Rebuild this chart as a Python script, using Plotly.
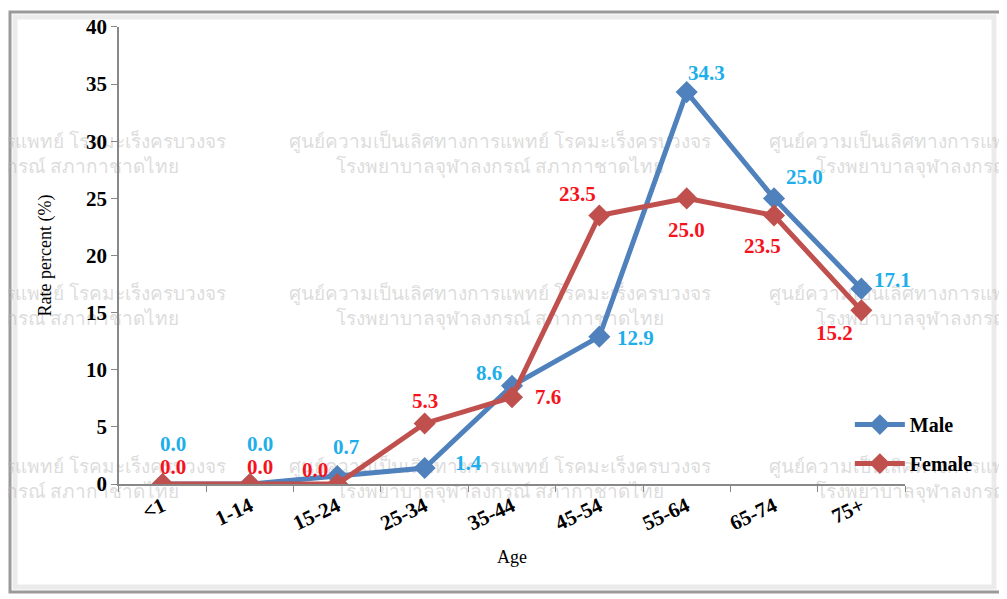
import plotly.graph_objects as go

ages = ["<1", "1-14", "15-24", "25-34", "35-44", "45-54", "55-64", "65-74", "75+"]
male = [0.0, 0.0, 0.7, 1.4, 8.6, 12.9, 34.3, 25.0, 17.1]
female = [0.0, 0.0, 0.0, 5.3, 7.6, 23.5, 25.0, 23.5, 15.2]

wm_line1 = "ศูนย์ความเป็นเลิศทางการแพทย์ โรคมะเร็งครบวงจร"
wm_line2 = "โรงพยาบาลจุฬาลงกรณ์ สภากาชาดไทย"

MALE_C = "#4F81BD"
FEMALE_C = "#C0504D"
MALE_TXT = "#1EAEEA"
FEMALE_TXT = "#F5141E"
SERIF = "Liberation Serif, Times New Roman, serif"

# label offsets in pixels (dx, dy)
male_off = [(10, 40), (10, 40), (9, 29), (44, 5), (-23, 13), (36, -1), (20, 19), (30, 21), (31, 9)]
female_off = [(10, 17), (10, 17), (-22, 14), (0, 22), (36, 0), (-22, 22), (0, -32), (-12, -30), (-27, -23)]

# watermark grid, in page pixels (the x/y axes span the whole page)
wm_x = [15, 500, 980]
wm_y = [156, 308, 481]

fig = go.Figure()

fig.add_trace(go.Scatter(
    x=[x for x in wm_x for _ in wm_y], y=[y for _ in wm_x for y in wm_y],
    mode="text", text=[wm_line1 + "<br>" + wm_line2] * 9,
    textfont=dict(size=19, color="rgba(185,185,185,0.5)", family="Noto Sans, DejaVu Sans, sans-serif"),
    cliponaxis=False, showlegend=False, hoverinfo="skip",
    xaxis="x", yaxis="y",
))

fig.add_trace(go.Scatter(
    x=ages, y=male, mode="lines+markers", name="Male", legendgroup="m",
    line=dict(color=MALE_C, width=5),
    marker=dict(symbol="diamond", size=17, color=MALE_C),
    xaxis="x2", yaxis="y2",
))
fig.add_trace(go.Scatter(
    x=ages, y=female, mode="lines+markers", name="Female", legendgroup="f",
    line=dict(color=FEMALE_C, width=5),
    marker=dict(symbol="diamond", size=17, color=FEMALE_C),
    xaxis="x2", yaxis="y2",
))

for i, a in enumerate(ages):
    fig.add_annotation(x=a, y=male[i], xref="x2", yref="y2", text=f"{male[i]:.1f}", showarrow=False,
                       xshift=male_off[i][0], yshift=male_off[i][1],
                       font=dict(family=SERIF, size=21, color=MALE_TXT, weight="bold"))
    fig.add_annotation(x=a, y=female[i], xref="x2", yref="y2", text=f"{female[i]:.1f}", showarrow=False,
                       xshift=female_off[i][0], yshift=female_off[i][1],
                       font=dict(family=SERIF, size=21, color=FEMALE_TXT, weight="bold"))

# outer frame with soft inner shadow
fig.add_shape(type="rect", xref="x", yref="y", x0=15, x1=994, y0=17, y1=587,
              line=dict(color="#EBEBEB", width=5), layer="below")
fig.add_shape(type="rect", xref="x", yref="y", x0=10, x1=1014, y0=12, y1=592,
              line=dict(color="#9A9A9A", width=3), layer="below")

fig.update_layout(
    width=1007, height=599,
    margin=dict(l=0, r=0, t=0, b=0, autoexpand=False),
    paper_bgcolor="white", plot_bgcolor="rgba(0,0,0,0)",
    font=dict(family=SERIF, color="black"),
    showlegend=True,
    legend=dict(x=0.836, y=0.272, xanchor="left", yanchor="middle",
                font=dict(family=SERIF, size=20, weight="bold"),
                tracegroupgap=10, itemwidth=50, bgcolor="rgba(0,0,0,0)"),
    xaxis=dict(range=[8, 1015], domain=[0, 1], visible=False, fixedrange=True),
    yaxis=dict(range=[607, 8], domain=[0, 1], visible=False, fixedrange=True),
    xaxis2=dict(
        domain=[0.1102, 0.8908], anchor="y2",
        type="category", range=[-0.5, 8.5], tickson="boundaries", automargin=False,
        ticks="outside", ticklen=6, tickcolor="#888",
        showline=True, linecolor="#888", linewidth=1.5, showgrid=False,
        tickangle=-25, tickfont=dict(family=SERIF, size=21, weight="bold"),
        title=dict(text="Age", font=dict(family=SERIF, size=18), standoff=16),
    ),
    yaxis2=dict(
        domain=[0.2053, 0.9683], anchor="x2",
        range=[0, 40], dtick=5, ticks="outside", ticklen=6, tickcolor="#888",
        showline=True, linecolor="#888", linewidth=1.5, showgrid=False, automargin=False,
        zeroline=False, tickfont=dict(family=SERIF, size=21, weight="bold"),
        title=dict(text="Rate percent (%)", font=dict(family=SERIF, size=18), standoff=30),
    ),
)

fig.write_html("out.html")
